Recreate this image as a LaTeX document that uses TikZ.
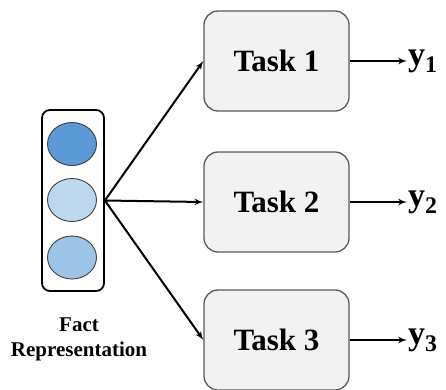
\documentclass[tikz,border=0pt]{standalone}
\usepackage{amsmath}
\usepackage{fontspec}
\setmainfont{Liberation Serif}
\usepackage{tikz}
\usetikzlibrary{arrows}
\usetikzlibrary{shapes,arrows}
\definecolor{cellA}{HTML}{5B9BD5}
\definecolor{cellB}{HTML}{BDD7EE}
\definecolor{cellC}{HTML}{9DC3E6}
\definecolor{taskfill}{HTML}{F2F2F2}
\definecolor{taskline}{HTML}{595959}
\tikzstyle{line} = [draw, -{latex'}, line width=2pt]
\tikzstyle{task} = [draw=taskline, fill=taskfill, line width=1.3pt, rounded corners=14pt,
	minimum width=145pt, minimum height=100pt, font=\fontsize{31}{36}\selectfont\bfseries]
\tikzstyle{cell} = [ellipse, draw=black!75, line width=0.9pt, minimum width=49pt, minimum height=43pt, inner sep=0pt]
\tikzstyle{outlabel} = [anchor=west, inner sep=1pt, font=\fontsize{34}{38}\selectfont\bfseries]

\begin{document}
\begin{tikzpicture}[x=1pt,y=-1pt]
	\useasboundingbox (0,0) rectangle (446,389);

	% ------------------- Fact representation ------------------- %
	\node[draw, line width=1.8pt, rounded corners=8pt, minimum width=62pt, minimum height=181pt] (fact) at (73,200.5) {};
	\node[cell, fill=cellA] (c1) at (72,144) {};
	\node[cell, fill=cellB] (c2) at (72,200) {};
	\node[cell, fill=cellC] (c3) at (72,257.5) {};
	\node[align=center, font=\fontsize{21}{25}\selectfont\bfseries] (factlabel) at (79,339) {Fact\\Representation};

	% ------------------- Tasks ------------------- %
	\node[task] (task1) at (276.5,61) {Task 1};
	\node[task] (task2) at (276.5,202) {Task 2};
	\node[task] (task3) at (276.5,340) {Task 3};

	\node[outlabel] (y1) at (407,61) {y$_{\textbf{1}}$};
	\node[outlabel] (y2) at (407,202) {y$_{\textbf{2}}$};
	\node[outlabel] (y3) at (407,340) {y$_{\textbf{3}}$};

	% ------------------- Arrows ------------------- %
	\path[line] (fact.east) -- (task1.west);
	\path[line] (fact.east) -- (task2.west);
	\path[line] (fact.east) -- (task3.west);

	\path[line] (task1) -- (y1);
	\path[line] (task2) -- (y2);
	\path[line] (task3) -- (y3);
\end{tikzpicture}
\end{document}
